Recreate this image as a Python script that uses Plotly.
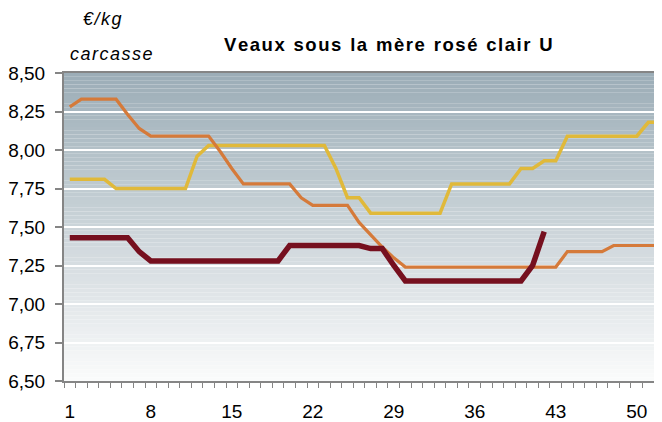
import plotly.graph_objects as go

weeks = list(range(1, 53))
tick_weeks = [1, 8, 15, 22, 29, 36, 43, 50]

# Orange series (52 weeks)
serie_orange = ([8.28] + [8.33] * 4 + [8.23, 8.14] + [8.09] * 6 + [7.99, 7.88] + [7.78] * 5 +
                [7.69] + [7.64] * 4 + [7.53, 7.45, 7.37, 7.30] + [7.24] * 14 + [7.34] * 4 + [7.38] * 5)
# Yellow series (52 weeks)
serie_jaune = ([7.81] * 4 + [7.75] * 7 + [7.96] + [8.03] * 11 + [7.88] + [7.69] * 2 + [7.59] * 7 +
               [7.78] * 6 + [7.88] * 2 + [7.93] * 2 + [8.09] * 7 + [8.18] * 2)
# Dark red series (current year, 42 weeks)
serie_rouge = ([7.43] * 6 + [7.34] + [7.28] * 12 + [7.38] * 7 + [7.36] * 2 + [7.25] + [7.15] * 11 +
               [7.25, 7.47])

title_text = "Veaux sous la mère rosé clair U"
unit_1 = "€/kg"
unit_2 = "carcasse"


def spaced(s, gap="\u200a", word_gap=" "):
    # emulate the letter spacing of the original
    return word_gap.join(gap.join(word) for word in s.split(" "))


fig = go.Figure()
fig.add_trace(go.Scatter(x=weeks, y=serie_jaune, mode="lines",
                         line=dict(color="#E0B93A", width=3.5), showlegend=False))
fig.add_trace(go.Scatter(x=weeks, y=serie_orange, mode="lines",
                         line=dict(color="#D57A3A", width=3.2), showlegend=False))
fig.add_trace(go.Scatter(x=weeks[:len(serie_rouge)], y=serie_rouge, mode="lines",
                         line=dict(color="#76101F", width=5.5), showlegend=False))

# vertical gradient background
shapes = []
n = 80
top = (156, 173, 183)
bot = (250, 251, 251)
for i in range(n):
    t = i / (n - 1)
    c = tuple(round(top[k] + (bot[k] - top[k]) * t) for k in range(3))
    shapes.append(dict(type="rect", xref="paper", yref="paper", x0=0, x1=1,
                       y0=1 - (i + 1) / n, y1=1 - i / n, fillcolor="rgb(%d,%d,%d)" % c,
                       line=dict(width=0), layer="below"))

font_main = "Liberation Sans, Arial, sans-serif"

fig.update_layout(
    width=654, height=414,
    margin=dict(l=54, r=0, t=65, b=41),
    paper_bgcolor="white", plot_bgcolor="rgba(0,0,0,0)",
    separators=", ",
    shapes=shapes,
    font=dict(family=font_main, color="black"),
    annotations=[
        dict(text="<b>" + spaced(title_text, "\u200a", " \u2009") + "</b>", xref="paper", yref="paper",
             x=(388 - 62) / 600, y=(381 - 44) / 308, xanchor="center", yanchor="middle",
             showarrow=False, font=dict(size=18.5, family=font_main)),
        dict(text="<i>" + spaced(unit_1) + "</i>", xref="paper", yref="paper",
             x=(101 - 62) / 600, y=(381 - 19) / 308, xanchor="center", yanchor="middle",
             showarrow=False, font=dict(size=18, family=font_main)),
        dict(text="<i>" + spaced(unit_2) + "</i>", xref="paper", yref="paper",
             x=(110 - 62) / 600, y=(381 - 54) / 308, xanchor="center", yanchor="middle",
             showarrow=False, font=dict(size=18, family=font_main)),
    ],
)

fig.update_xaxes(
    range=[0.5, 52.18], tickvals=tick_weeks, ticktext=[str(v) for v in tick_weeks],
    ticks="", showgrid=False, zeroline=False,
    showline=True, linecolor="#858585", linewidth=2, mirror=True,
    tickfont=dict(size=19, family=font_main, color="black"),
    ticklabelstandoff=12,
    minor=dict(ticks="outside", tick0=0.5, dtick=1, ticklen=5, tickcolor="#858585",
               tickwidth=1, showgrid=False),
)
fig.update_yaxes(
    range=[6.5, 8.5], tick0=6.5, dtick=0.25, tickformat=".2f",
    ticks="outside", ticklen=7, tickcolor="#858585", tickwidth=1.5,
    showgrid=True, gridcolor="white", gridwidth=1.5, zeroline=False,
    showline=True, linecolor="#858585", linewidth=2,
    tickfont=dict(size=19, family=font_main, color="black"),
    ticklabelstandoff=6,
)

fig.write_html("out.html")
